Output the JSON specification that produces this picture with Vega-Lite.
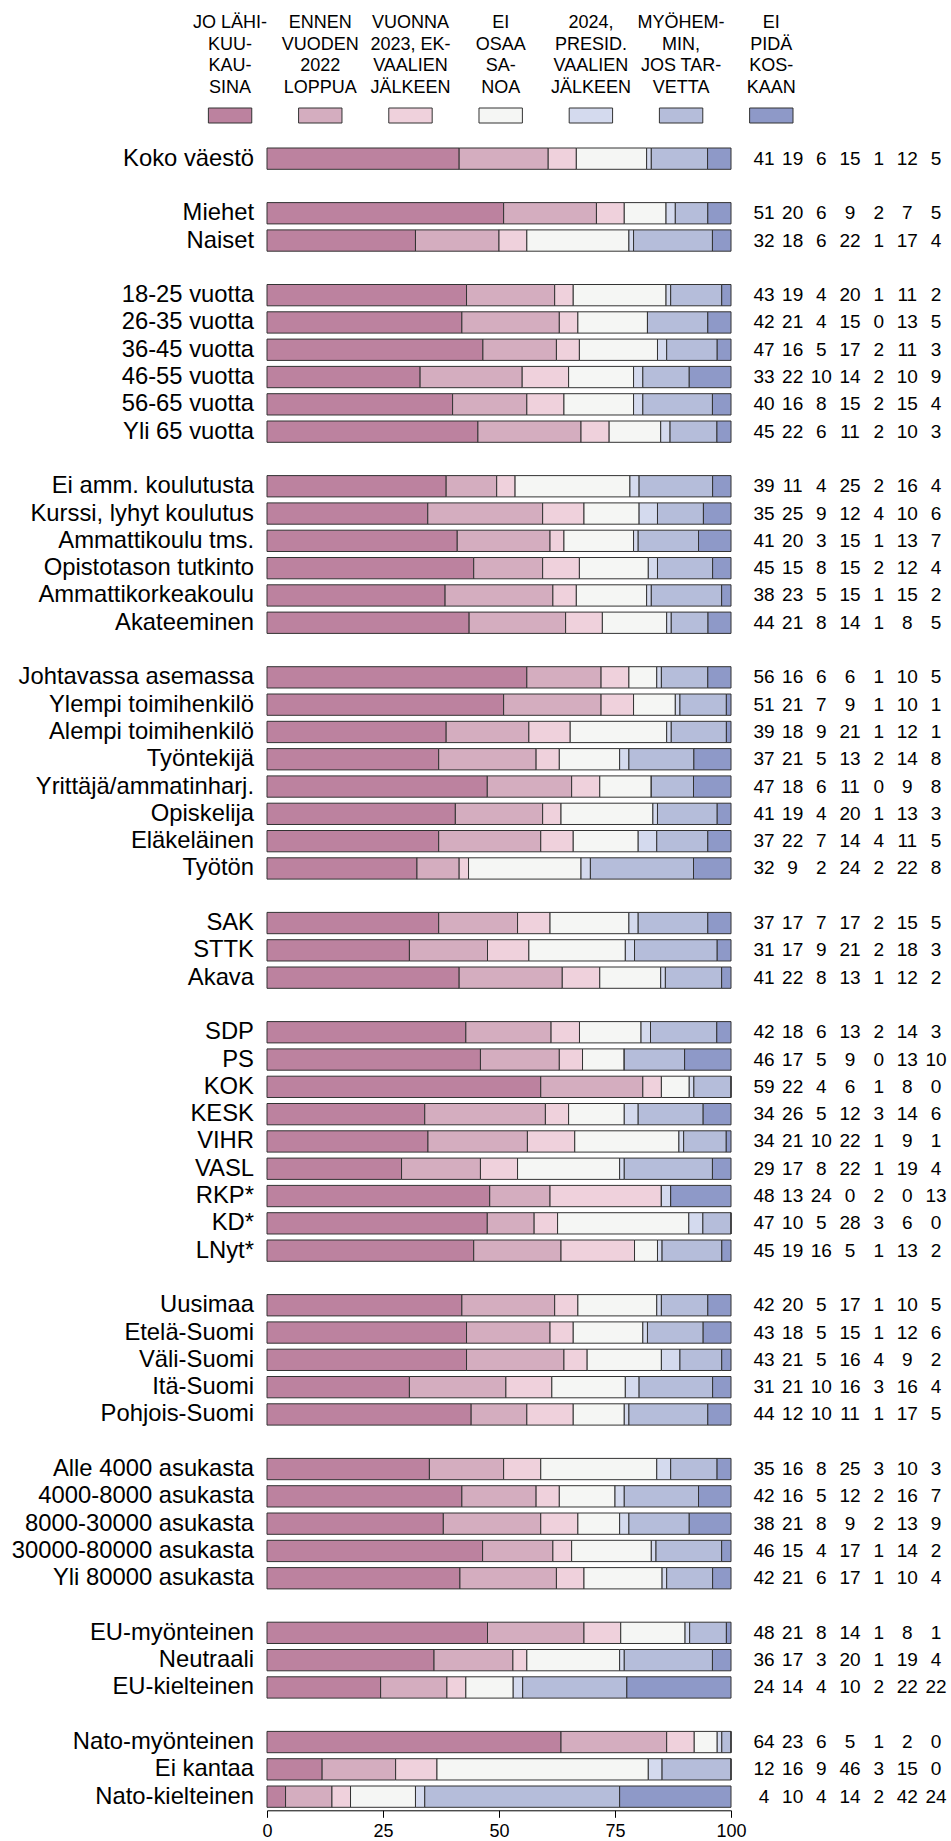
{
  "$schema": "https://vega.github.io/schema/vega-lite/v6.json",
  "background": "white",
  "padding": {"left": 0, "top": 14, "right": 0, "bottom": 0},
  "config": {"view": {"stroke": null}, "font": "Liberation Sans"},
  "datasets": {
    "selitteet": [
      {"vastaus": "k1", "nimi": "JO LÄHI-\nKUU-\nKAU-\nSINA"},
      {"vastaus": "k2", "nimi": "ENNEN\nVUODEN\n2022\nLOPPUA"},
      {"vastaus": "k3", "nimi": "VUONNA\n2023, EK-\nVAALIEN\nJÄLKEEN"},
      {"vastaus": "k4", "nimi": "EI\nOSAA\nSA-\nNOA"},
      {"vastaus": "k5", "nimi": "2024,\nPRESID.\nVAALIEN\nJÄLKEEN"},
      {"vastaus": "k6", "nimi": "MYÖHEM-\nMIN,\nJOS TAR-\nVETTA"},
      {"vastaus": "k7", "nimi": "EI\nPIDÄ\nKOS-\nKAAN"}
    ],
    "rivit": [
      {"r": "Koko väestö", "k1": 41, "k2": 19, "k3": 6, "k4": 15, "k5": 1, "k6": 12, "k7": 5},
      {"r": "Miehet", "k1": 51, "k2": 20, "k3": 6, "k4": 9, "k5": 2, "k6": 7, "k7": 5},
      {"r": "Naiset", "k1": 32, "k2": 18, "k3": 6, "k4": 22, "k5": 1, "k6": 17, "k7": 4},
      {"r": "18-25 vuotta", "k1": 43, "k2": 19, "k3": 4, "k4": 20, "k5": 1, "k6": 11, "k7": 2},
      {"r": "26-35 vuotta", "k1": 42, "k2": 21, "k3": 4, "k4": 15, "k5": 0, "k6": 13, "k7": 5},
      {"r": "36-45 vuotta", "k1": 47, "k2": 16, "k3": 5, "k4": 17, "k5": 2, "k6": 11, "k7": 3},
      {"r": "46-55 vuotta", "k1": 33, "k2": 22, "k3": 10, "k4": 14, "k5": 2, "k6": 10, "k7": 9},
      {"r": "56-65 vuotta", "k1": 40, "k2": 16, "k3": 8, "k4": 15, "k5": 2, "k6": 15, "k7": 4},
      {"r": "Yli 65 vuotta", "k1": 45, "k2": 22, "k3": 6, "k4": 11, "k5": 2, "k6": 10, "k7": 3},
      {"r": "Ei amm. koulutusta", "k1": 39, "k2": 11, "k3": 4, "k4": 25, "k5": 2, "k6": 16, "k7": 4},
      {"r": "Kurssi, lyhyt koulutus", "k1": 35, "k2": 25, "k3": 9, "k4": 12, "k5": 4, "k6": 10, "k7": 6},
      {"r": "Ammattikoulu tms.", "k1": 41, "k2": 20, "k3": 3, "k4": 15, "k5": 1, "k6": 13, "k7": 7},
      {"r": "Opistotason tutkinto", "k1": 45, "k2": 15, "k3": 8, "k4": 15, "k5": 2, "k6": 12, "k7": 4},
      {"r": "Ammattikorkeakoulu", "k1": 38, "k2": 23, "k3": 5, "k4": 15, "k5": 1, "k6": 15, "k7": 2},
      {"r": "Akateeminen", "k1": 44, "k2": 21, "k3": 8, "k4": 14, "k5": 1, "k6": 8, "k7": 5},
      {"r": "Johtavassa asemassa", "k1": 56, "k2": 16, "k3": 6, "k4": 6, "k5": 1, "k6": 10, "k7": 5},
      {"r": "Ylempi toimihenkilö", "k1": 51, "k2": 21, "k3": 7, "k4": 9, "k5": 1, "k6": 10, "k7": 1},
      {"r": "Alempi toimihenkilö", "k1": 39, "k2": 18, "k3": 9, "k4": 21, "k5": 1, "k6": 12, "k7": 1},
      {"r": "Työntekijä", "k1": 37, "k2": 21, "k3": 5, "k4": 13, "k5": 2, "k6": 14, "k7": 8},
      {"r": "Yrittäjä/ammatinharj.", "k1": 47, "k2": 18, "k3": 6, "k4": 11, "k5": 0, "k6": 9, "k7": 8},
      {"r": "Opiskelija", "k1": 41, "k2": 19, "k3": 4, "k4": 20, "k5": 1, "k6": 13, "k7": 3},
      {"r": "Eläkeläinen", "k1": 37, "k2": 22, "k3": 7, "k4": 14, "k5": 4, "k6": 11, "k7": 5},
      {"r": "Työtön", "k1": 32, "k2": 9, "k3": 2, "k4": 24, "k5": 2, "k6": 22, "k7": 8},
      {"r": "SAK", "k1": 37, "k2": 17, "k3": 7, "k4": 17, "k5": 2, "k6": 15, "k7": 5},
      {"r": "STTK", "k1": 31, "k2": 17, "k3": 9, "k4": 21, "k5": 2, "k6": 18, "k7": 3},
      {"r": "Akava", "k1": 41, "k2": 22, "k3": 8, "k4": 13, "k5": 1, "k6": 12, "k7": 2},
      {"r": "SDP", "k1": 42, "k2": 18, "k3": 6, "k4": 13, "k5": 2, "k6": 14, "k7": 3},
      {"r": "PS", "k1": 46, "k2": 17, "k3": 5, "k4": 9, "k5": 0, "k6": 13, "k7": 10},
      {"r": "KOK", "k1": 59, "k2": 22, "k3": 4, "k4": 6, "k5": 1, "k6": 8, "k7": 0},
      {"r": "KESK", "k1": 34, "k2": 26, "k3": 5, "k4": 12, "k5": 3, "k6": 14, "k7": 6},
      {"r": "VIHR", "k1": 34, "k2": 21, "k3": 10, "k4": 22, "k5": 1, "k6": 9, "k7": 1},
      {"r": "VASL", "k1": 29, "k2": 17, "k3": 8, "k4": 22, "k5": 1, "k6": 19, "k7": 4},
      {"r": "RKP*", "k1": 48, "k2": 13, "k3": 24, "k4": 0, "k5": 2, "k6": 0, "k7": 13},
      {"r": "KD*", "k1": 47, "k2": 10, "k3": 5, "k4": 28, "k5": 3, "k6": 6, "k7": 0},
      {"r": "LNyt*", "k1": 45, "k2": 19, "k3": 16, "k4": 5, "k5": 1, "k6": 13, "k7": 2},
      {"r": "Uusimaa", "k1": 42, "k2": 20, "k3": 5, "k4": 17, "k5": 1, "k6": 10, "k7": 5},
      {"r": "Etelä-Suomi", "k1": 43, "k2": 18, "k3": 5, "k4": 15, "k5": 1, "k6": 12, "k7": 6},
      {"r": "Väli-Suomi", "k1": 43, "k2": 21, "k3": 5, "k4": 16, "k5": 4, "k6": 9, "k7": 2},
      {"r": "Itä-Suomi", "k1": 31, "k2": 21, "k3": 10, "k4": 16, "k5": 3, "k6": 16, "k7": 4},
      {"r": "Pohjois-Suomi", "k1": 44, "k2": 12, "k3": 10, "k4": 11, "k5": 1, "k6": 17, "k7": 5},
      {"r": "Alle 4000 asukasta", "k1": 35, "k2": 16, "k3": 8, "k4": 25, "k5": 3, "k6": 10, "k7": 3},
      {"r": "4000-8000 asukasta", "k1": 42, "k2": 16, "k3": 5, "k4": 12, "k5": 2, "k6": 16, "k7": 7},
      {"r": "8000-30000 asukasta", "k1": 38, "k2": 21, "k3": 8, "k4": 9, "k5": 2, "k6": 13, "k7": 9},
      {"r": "30000-80000 asukasta", "k1": 46, "k2": 15, "k3": 4, "k4": 17, "k5": 1, "k6": 14, "k7": 2},
      {"r": "Yli 80000 asukasta", "k1": 42, "k2": 21, "k3": 6, "k4": 17, "k5": 1, "k6": 10, "k7": 4},
      {"r": "EU-myönteinen", "k1": 48, "k2": 21, "k3": 8, "k4": 14, "k5": 1, "k6": 8, "k7": 1},
      {"r": "Neutraali", "k1": 36, "k2": 17, "k3": 3, "k4": 20, "k5": 1, "k6": 19, "k7": 4},
      {"r": "EU-kielteinen", "k1": 24, "k2": 14, "k3": 4, "k4": 10, "k5": 2, "k6": 22, "k7": 22},
      {"r": "Nato-myönteinen", "k1": 64, "k2": 23, "k3": 6, "k4": 5, "k5": 1, "k6": 2, "k7": 0},
      {"r": "Ei kantaa", "k1": 12, "k2": 16, "k3": 9, "k4": 46, "k5": 3, "k6": 15, "k7": 0},
      {"r": "Nato-kielteinen", "k1": 4, "k2": 10, "k3": 4, "k4": 14, "k5": 2, "k6": 42, "k7": 24}
    ]
  },
  "vconcat": [
    {
      "data": {"name": "selitteet"},
      "width": 793,
      "height": 15,
      "encoding": {
        "x": {"field": "vastaus", "type": "nominal", "axis": null,
              "scale": {"type": "band", "domain": ["_", "k1","k2","k3","k4","k5","k6","k7"], "paddingInner": 0.519, "paddingOuter": 0.655, "align": 1}}
      },
      "layer": [
        {
          "mark": {"type": "rect", "stroke": "#333333", "strokeWidth": 1},
          "encoding": {
            "color": {"field": "vastaus", "type": "nominal", "legend": null,
                      "scale": {"domain": ["k1","k2","k3","k4","k5","k6","k7"], "range": ["#BC829F","#D4ADBF","#EFD1DC","#F5F6F4","#D4DAEE","#B5BDDA","#8E99C8"]}}
          }
        },
        {
          "mark": {"type": "text", "lineBreak": "\n", "font": "Liberation Sans", "fontSize": 18, "lineHeight": 21.5, "baseline": "alphabetic", "align": "center", "dy": -87.5, "color": "#000000"},
          "encoding": {"text": {"field": "nimi"}}
        }
      ]
    },
    {
      "data": {"name": "rivit"},
      "spacing": 13,
      "bounds": "flush",
      "resolve": {"scale": {"x": "independent", "y": "independent", "color": "independent"}},
      "hconcat": [
        {
          "width": 254,
          "height": 1665.3,
          "mark": {"type": "text", "align": "right", "baseline": "middle", "fontSize": 23.8, "font": "Liberation Sans", "color": "#000000"},
          "encoding": {
            "x": {"value": "width"},
            "y": {"field": "r", "type": "nominal", "axis": null,
                  "scale": {"paddingInner": 0.22, "paddingOuter": 0.11, "domain": ["Koko väestö","_1","Miehet","Naiset","_2","18-25 vuotta","26-35 vuotta","36-45 vuotta","46-55 vuotta","56-65 vuotta","Yli 65 vuotta","_3","Ei amm. koulutusta","Kurssi, lyhyt koulutus","Ammattikoulu tms.","Opistotason tutkinto","Ammattikorkeakoulu","Akateeminen","_4","Johtavassa asemassa","Ylempi toimihenkilö","Alempi toimihenkilö","Työntekijä","Yrittäjä/ammatinharj.","Opiskelija","Eläkeläinen","Työtön","_5","SAK","STTK","Akava","_6","SDP","PS","KOK","KESK","VIHR","VASL","RKP*","KD*","LNyt*","_7","Uusimaa","Etelä-Suomi","Väli-Suomi","Itä-Suomi","Pohjois-Suomi","_8","Alle 4000 asukasta","4000-8000 asukasta","8000-30000 asukasta","30000-80000 asukasta","Yli 80000 asukasta","_9","EU-myönteinen","Neutraali","EU-kielteinen","_10","Nato-myönteinen","Ei kantaa","Nato-kielteinen"]}},
            "text": {"field": "r"}
          }
        },
        {
          "width": 464,
          "height": 1665.3,
          "transform": [{"fold": ["k1","k2","k3","k4","k5","k6","k7"], "as": ["vastaus", "osuus"]}],
          "mark": {"type": "bar", "stroke": "#333333", "strokeWidth": 1},
          "encoding": {
            "y": {"field": "r", "type": "nominal", "axis": null,
                  "scale": {"paddingInner": 0.22, "paddingOuter": 0.11, "domain": ["Koko väestö","_1","Miehet","Naiset","_2","18-25 vuotta","26-35 vuotta","36-45 vuotta","46-55 vuotta","56-65 vuotta","Yli 65 vuotta","_3","Ei amm. koulutusta","Kurssi, lyhyt koulutus","Ammattikoulu tms.","Opistotason tutkinto","Ammattikorkeakoulu","Akateeminen","_4","Johtavassa asemassa","Ylempi toimihenkilö","Alempi toimihenkilö","Työntekijä","Yrittäjä/ammatinharj.","Opiskelija","Eläkeläinen","Työtön","_5","SAK","STTK","Akava","_6","SDP","PS","KOK","KESK","VIHR","VASL","RKP*","KD*","LNyt*","_7","Uusimaa","Etelä-Suomi","Väli-Suomi","Itä-Suomi","Pohjois-Suomi","_8","Alle 4000 asukasta","4000-8000 asukasta","8000-30000 asukasta","30000-80000 asukasta","Yli 80000 asukasta","_9","EU-myönteinen","Neutraali","EU-kielteinen","_10","Nato-myönteinen","Ei kantaa","Nato-kielteinen"]}},
            "x": {"field": "osuus", "type": "quantitative", "stack": "normalize",
                  "scale": {"domain": [0, 1], "nice": false},
                  "axis": {"title": null, "grid": false, "values": [0, 0.25, 0.5, 0.75, 1],
                           "labelExpr": "format(datum.value * 100, 'd')",
                           "labelFlush": false, "labelFontSize": 18, "labelFont": "Liberation Sans", "labelColor": "#000000",
                           "domainColor": "#000000", "tickColor": "#000000", "tickSize": 7, "labelPadding": 5}},
            "color": {"field": "vastaus", "type": "nominal", "legend": null,
                      "scale": {"domain": ["k1","k2","k3","k4","k5","k6","k7"], "range": ["#BC829F","#D4ADBF","#EFD1DC","#F5F6F4","#D4DAEE","#B5BDDA","#8E99C8"]}},
            "order": {"field": "vastaus", "type": "nominal"}
          }
        },
        {
          "width": 200,
          "height": 1665.3,
          "transform": [{"fold": ["k1","k2","k3","k4","k5","k6","k7"], "as": ["vastaus", "osuus"]}],
          "mark": {"type": "text", "align": "center", "baseline": "middle", "fontSize": 19, "font": "Liberation Sans", "color": "#000000"},
          "encoding": {
            "x": {"field": "vastaus", "type": "nominal", "axis": null,
                  "scale": {"type": "point", "domain": ["k1","k2","k3","k4","k5","k6","k7"], "padding": 0.488, "align": 0.714}},
            "y": {"field": "r", "type": "nominal", "axis": null,
                  "scale": {"paddingInner": 0.22, "paddingOuter": 0.11, "domain": ["Koko väestö","_1","Miehet","Naiset","_2","18-25 vuotta","26-35 vuotta","36-45 vuotta","46-55 vuotta","56-65 vuotta","Yli 65 vuotta","_3","Ei amm. koulutusta","Kurssi, lyhyt koulutus","Ammattikoulu tms.","Opistotason tutkinto","Ammattikorkeakoulu","Akateeminen","_4","Johtavassa asemassa","Ylempi toimihenkilö","Alempi toimihenkilö","Työntekijä","Yrittäjä/ammatinharj.","Opiskelija","Eläkeläinen","Työtön","_5","SAK","STTK","Akava","_6","SDP","PS","KOK","KESK","VIHR","VASL","RKP*","KD*","LNyt*","_7","Uusimaa","Etelä-Suomi","Väli-Suomi","Itä-Suomi","Pohjois-Suomi","_8","Alle 4000 asukasta","4000-8000 asukasta","8000-30000 asukasta","30000-80000 asukasta","Yli 80000 asukasta","_9","EU-myönteinen","Neutraali","EU-kielteinen","_10","Nato-myönteinen","Ei kantaa","Nato-kielteinen"]}},
            "text": {"field": "osuus", "type": "quantitative"}
          }
        }
      ]
    }
  ],
  "spacing": 22,
  "bounds": "flush",
  "resolve": {"scale": {"x": "independent", "color": "independent"}}
}
